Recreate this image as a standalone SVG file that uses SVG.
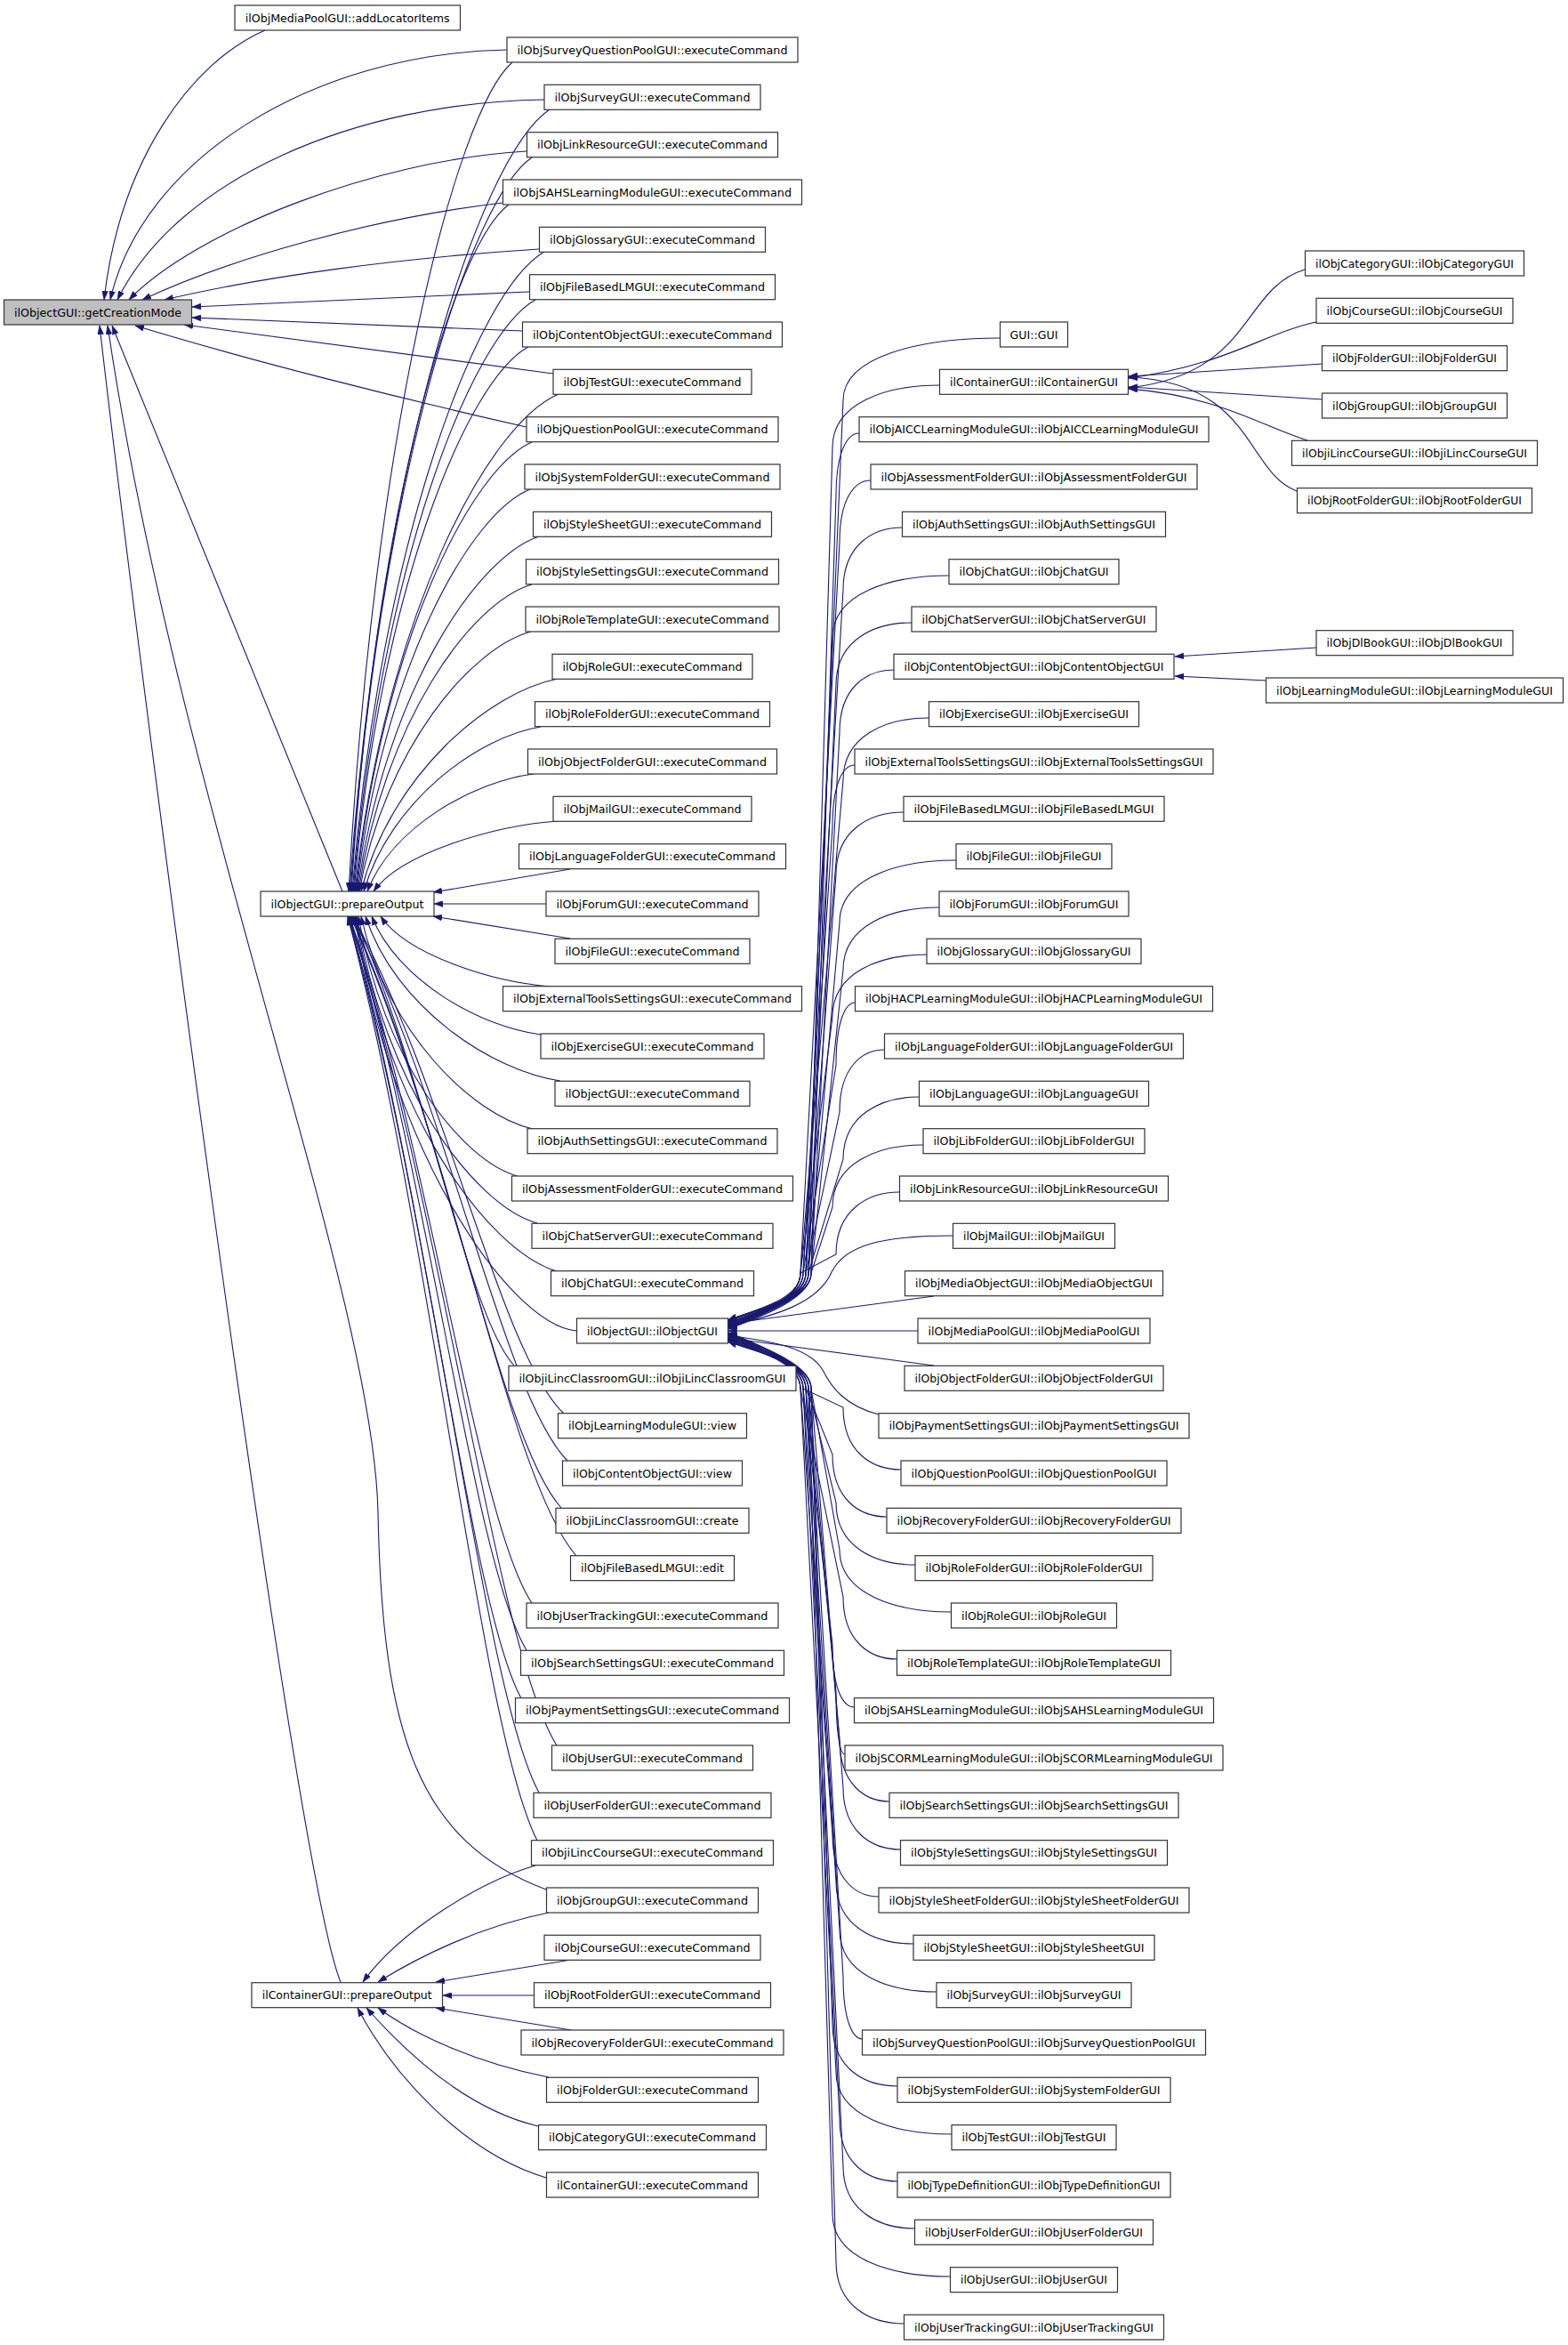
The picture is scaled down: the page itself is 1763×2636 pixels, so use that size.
<svg xmlns="http://www.w3.org/2000/svg" width="1763" height="2636" viewBox="0 0 1763 2636">
<style>
rect{fill:#fff;stroke:#333;stroke-width:1.2}
text{font-family:"DejaVu Sans",sans-serif;font-size:12.6px;text-anchor:middle;fill:#000}
#edges path{fill:none;stroke:#191970;stroke-width:1.1}
</style>
<defs>
<marker id="ah" viewBox="0 0 10 7" refX="10" refY="3.5" markerWidth="10" markerHeight="7" markerUnits="userSpaceOnUse" orient="auto"><path d="M0,0L10,3.5L0,7z" fill="#191970" stroke="#191970" stroke-width="0.5"/></marker>
</defs>
<rect x="0" y="0" width="1763" height="2636" style="fill:#fff;stroke:none"/>
<g id="edges" marker-end="url(#ah)">
<path d="M298,34 C215,70 135,180 117,337"/>
<path d="M570,56 C350,60 160,180 124,337"/>
<path d="M612,112 C400,115 200,200 132,337"/>
<path d="M592,170 C420,180 220,260 145,337"/>
<path d="M565,228 C420,245 260,290 160,337"/>
<path d="M606,280 C450,290 300,310 185,337"/>
<path d="M595,328 L216,345"/>
<path d="M587,372 L216,357"/>
<path d="M622,420 L207,365"/>
<path d="M592,480 C450,448 280,405 152,366"/>
<path d="M385,1002 L126,366"/>
<path d="M383,2228 C330,2100 150,700 112,366"/>
<path d="M614,2124 C470,2070 430,1950 425,1700 C420,1450 200,900 121,366"/>
<path d="M576,70 C512,126 420,489 392,1002"/>
<path d="M618,123 C539,176 427,519 393,1002"/>
<path d="M598,177 C527,226 425,548 394,1002"/>
<path d="M572,230 C510,276 421,577 395,1002"/>
<path d="M612,283 C537,326 428,607 396,1002"/>
<path d="M602,337 C530,377 428,636 397,1002"/>
<path d="M594,390 C525,427 427,665 398,1002"/>
<path d="M628,443 C548,477 433,695 399,1002"/>
<path d="M598,497 C529,527 430,724 400,1002"/>
<path d="M596,550 C528,577 430,753 401,1002"/>
<path d="M606,603 C534,627 432,783 402,1002"/>
<path d="M598,657 C529,677 432,812 403,1002"/>
<path d="M597,710 C530,728 433,841 404,1002"/>
<path d="M627,763 C550,778 439,871 406,1002"/>
<path d="M608,817 C538,828 439,900 409,1002"/>
<path d="M600,870 C534,878 441,929 413,1002"/>
<path d="M628,923 C555,928 451,959 420,1002"/>
<path d="M641,977 L487,1003"/>
<path d="M614,1016 L488,1016"/>
<path d="M641,1055 L487,1030"/>
<path d="M620,1109 C553,1104 457,1073 428,1030"/>
<path d="M608,1163 C542,1155 447,1103 418,1030"/>
<path d="M630,1215 C553,1204 444,1132 411,1030"/>
<path d="M599,1269 C532,1254 435,1161 406,1030"/>
<path d="M582,1322 C519,1305 430,1191 403,1030"/>
<path d="M604,1375 C533,1355 432,1220 401,1030"/>
<path d="M626,1429 C547,1405 434,1249 400,1030"/>
<path d="M648,1496 C570,1488 436,1286 399,1030"/>
<path d="M578,1535 C524,1475 479,1207 398,1030"/>
<path d="M634,1589 C563,1522 503,1226 397,1030"/>
<path d="M638,1642 C566,1569 505,1244 396,1030"/>
<path d="M631,1695 C560,1615 501,1263 395,1030"/>
<path d="M648,1749 C572,1662 508,1282 394,1030"/>
<path d="M598,1802 C536,1709 485,1300 393,1030"/>
<path d="M592,1855 C532,1756 482,1319 393,1030"/>
<path d="M586,1909 C528,1803 479,1338 392,1030"/>
<path d="M626,1962 C556,1850 498,1356 392,1030"/>
<path d="M606,2015 C542,1897 488,1375 391,1030"/>
<path d="M604,2069 C540,1944 487,1394 391,1030"/>
<path d="M602,2097 C540,2115 450,2170 408,2228"/>
<path d="M617,2150 C540,2165 470,2200 425,2228"/>
<path d="M642,2203 L490,2228"/>
<path d="M600,2243 L498,2243"/>
<path d="M642,2282 L490,2257"/>
<path d="M617,2335 C540,2320 470,2290 425,2257"/>
<path d="M605,2390 C520,2370 450,2300 412,2257"/>
<path d="M614,2448 C520,2420 440,2330 402,2257"/>
<path d="M1467,303 C1395,325 1410,420 1269,436"/>
<path d="M1480,362 C1420,375 1380,410 1269,425"/>
<path d="M1487,409 L1269,423"/>
<path d="M1487,449 L1269,435"/>
<path d="M1470,495 C1420,480 1370,445 1269,437"/>
<path d="M1458,552 C1400,530 1410,430 1269,424"/>
<path d="M1480,728 L1321,738"/>
<path d="M1424,765 L1321,760"/>
<path d="M1124.5,380 C1036,380 948,400 948,450 L906,1431 C906,1461 850,1472 818.5,1484"/>
<path d="M1056.5,433 C996,433 936,453 936,503 L909,1431 C909,1461 850,1472 818.5,1484"/>
<path d="M966,487 C953,487 940,507 940,557 L912,1431 C912,1461 850,1472 818.5,1484"/>
<path d="M979,540 C961,540 944,560 944,610 L900,1431 C900,1461 850,1472 818.5,1484"/>
<path d="M1014.5,593 C981,593 948,613 948,663 L903,1431 C903,1461 850,1473 818.5,1485"/>
<path d="M1067,647 C1001,647 936,667 936,717 L906,1431 C906,1461 850,1474 818.5,1486"/>
<path d="M1025,700 C982,700 940,720 940,770 L909,1431 C909,1461 850,1475 818.5,1487"/>
<path d="M1005,753 C974,753 944,773 944,823 L912,1431 C912,1461 850,1476 818.5,1488"/>
<path d="M1044.5,807 C996,807 948,827 948,877 L900,1431 C900,1461 850,1476 818.5,1488"/>
<path d="M961,860 C948,860 936,880 936,930 L903,1431 C903,1461 850,1477 818.5,1489"/>
<path d="M1016,913 C978,913 940,933 940,983 L906,1431 C906,1461 850,1477 818.5,1489"/>
<path d="M1075,967 C1010,967 944,987 944,1037 L909,1431 C909,1461 850,1478 818.5,1490"/>
<path d="M1056,1020 C1002,1020 948,1040 948,1090 L912,1431 C912,1461 850,1479 818.5,1491"/>
<path d="M1042,1073 C989,1073 936,1093 936,1143 L900,1431 C900,1461 850,1479 818.5,1491"/>
<path d="M961.5,1127 C951,1127 940,1147 940,1197 L903,1431 C903,1461 850,1480 818.5,1492"/>
<path d="M994.5,1180 C969,1180 944,1200 944,1250 L906,1431 C906,1461 850,1480 818.5,1492"/>
<path d="M1033.5,1233 C991,1233 948,1253 948,1303 L909,1431 C909,1461 850,1481 818.5,1493"/>
<path d="M1038,1287 C987,1287 936,1307 936,1357 L912,1431 C912,1461 850,1482 818.5,1494"/>
<path d="M1011.5,1340 C976,1340 940,1360 940,1410 L900,1431 C900,1461 850,1482 818.5,1494"/>
<path d="M1071.5,1389 C990,1389 950,1400 935,1430 C920,1465 870,1480 818.5,1490"/>
<path d="M1050,1457 L818.5,1488"/>
<path d="M1032,1496 L818.5,1496"/>
<path d="M1050,1535 L818.5,1504"/>
<path d="M988,1590 C950,1580 935,1560 925,1540 C910,1515 870,1508 818.5,1501"/>
<path d="M1013,1652 C980,1652 948,1632 948,1582 L903,1561 C903,1531 850,1510 818.5,1498"/>
<path d="M997,1705 C966,1705 936,1685 936,1635 L906,1561 C906,1531 850,1510 818.5,1498"/>
<path d="M1029,1759 C984,1759 940,1739 940,1689 L909,1561 C909,1531 850,1511 818.5,1499"/>
<path d="M1069.5,1812 C1007,1812 944,1792 944,1742 L912,1561 C912,1531 850,1512 818.5,1500"/>
<path d="M1008.5,1865 C978,1865 948,1845 948,1795 L900,1561 C900,1531 850,1512 818.5,1500"/>
<path d="M960.5,1919 C948,1919 936,1899 936,1849 L903,1561 C903,1531 850,1513 818.5,1501"/>
<path d="M950,1972 C945,1972 940,1952 940,1902 L906,1561 C906,1531 850,1513 818.5,1501"/>
<path d="M1000,2025 C972,2025 944,2005 944,1955 L909,1561 C909,1531 850,1514 818.5,1502"/>
<path d="M1012.5,2079 C980,2079 948,2059 948,2009 L912,1561 C912,1531 850,1515 818.5,1503"/>
<path d="M988,2132 C962,2132 936,2112 936,2062 L900,1561 C900,1531 850,1515 818.5,1503"/>
<path d="M1027,2185 C983,2185 940,2165 940,2115 L903,1561 C903,1531 850,1516 818.5,1504"/>
<path d="M1053,2239 C998,2239 944,2219 944,2169 L906,1561 C906,1531 850,1516 818.5,1504"/>
<path d="M969.5,2292 C959,2292 948,2272 948,2222 L909,1561 C909,1531 850,1517 818.5,1505"/>
<path d="M1009,2345 C972,2345 936,2325 936,2275 L912,1561 C912,1531 850,1518 818.5,1506"/>
<path d="M1070,2399 C1005,2399 940,2379 940,2329 L900,1561 C900,1531 850,1518 818.5,1506"/>
<path d="M1009,2452 C976,2452 944,2432 944,2382 L903,1561 C903,1531 850,1519 818.5,1507"/>
<path d="M1028.5,2505 C988,2505 948,2485 948,2435 L906,1561 C906,1531 850,1519 818.5,1507"/>
<path d="M1068.5,2559 C1002,2559 936,2539 936,2489 L909,1561 C909,1531 850,1520 818.5,1508"/>
<path d="M1016.5,2612 C978,2612 940,2592 940,2542 L912,1561 C912,1531 850,1520 818.5,1508"/>
</g>
<g id="n_root"><rect x="4.5" y="337" width="211" height="28" style="fill:#bfbfbf"/><text x="110" y="355.5" textLength="188" lengthAdjust="spacingAndGlyphs">ilObjectGUI::getCreationMode</text></g>
<g id="n_addloc"><rect x="264" y="6" width="253.5" height="28"/><text x="390.7" y="24.5" textLength="230" lengthAdjust="spacingAndGlyphs">ilObjMediaPoolGUI::addLocatorItems</text></g>
<g id="n_po"><rect x="293" y="1002" width="195" height="28"/><text x="390.5" y="1020.5" textLength="172" lengthAdjust="spacingAndGlyphs">ilObjectGUI::prepareOutput</text></g>
<g id="n_cpo"><rect x="283" y="2228.7" width="214.5" height="28"/><text x="390.2" y="2247.2" textLength="191" lengthAdjust="spacingAndGlyphs">ilContainerGUI::prepareOutput</text></g>
<g id="c1"><rect x="570" y="42" width="327" height="28"/><text x="733.5" y="60.5" textLength="304" lengthAdjust="spacingAndGlyphs">ilObjSurveyQuestionPoolGUI::executeCommand</text></g>
<g id="c2"><rect x="612" y="95.3" width="243" height="28"/><text x="733.5" y="113.8" textLength="220" lengthAdjust="spacingAndGlyphs">ilObjSurveyGUI::executeCommand</text></g>
<g id="c3"><rect x="592.5" y="148.7" width="282" height="28"/><text x="733.5" y="167.2" textLength="259" lengthAdjust="spacingAndGlyphs">ilObjLinkResourceGUI::executeCommand</text></g>
<g id="c4"><rect x="565.5" y="202" width="336" height="28"/><text x="733.5" y="220.5" textLength="313" lengthAdjust="spacingAndGlyphs">ilObjSAHSLearningModuleGUI::executeCommand</text></g>
<g id="c5"><rect x="606.5" y="255.3" width="254" height="28"/><text x="733.5" y="273.8" textLength="231" lengthAdjust="spacingAndGlyphs">ilObjGlossaryGUI::executeCommand</text></g>
<g id="c6"><rect x="595.5" y="308.7" width="276" height="28"/><text x="733.5" y="327.2" textLength="253" lengthAdjust="spacingAndGlyphs">ilObjFileBasedLMGUI::executeCommand</text></g>
<g id="c7"><rect x="587.5" y="362" width="292" height="28"/><text x="733.5" y="380.5" textLength="269" lengthAdjust="spacingAndGlyphs">ilObjContentObjectGUI::executeCommand</text></g>
<g id="c8"><rect x="622" y="415.3" width="223" height="28"/><text x="733.5" y="433.8" textLength="200" lengthAdjust="spacingAndGlyphs">ilObjTestGUI::executeCommand</text></g>
<g id="c9"><rect x="592" y="468.7" width="283" height="28"/><text x="733.5" y="487.2" textLength="260" lengthAdjust="spacingAndGlyphs">ilObjQuestionPoolGUI::executeCommand</text></g>
<g id="c10"><rect x="590" y="522" width="287" height="28"/><text x="733.5" y="540.5" textLength="264" lengthAdjust="spacingAndGlyphs">ilObjSystemFolderGUI::executeCommand</text></g>
<g id="c11"><rect x="599.5" y="575.3" width="268" height="28"/><text x="733.5" y="593.8" textLength="245" lengthAdjust="spacingAndGlyphs">ilObjStyleSheetGUI::executeCommand</text></g>
<g id="c12"><rect x="591.5" y="628.7" width="284" height="28"/><text x="733.5" y="647.2" textLength="261" lengthAdjust="spacingAndGlyphs">ilObjStyleSettingsGUI::executeCommand</text></g>
<g id="c13"><rect x="591" y="682" width="285" height="28"/><text x="733.5" y="700.5" textLength="262" lengthAdjust="spacingAndGlyphs">ilObjRoleTemplateGUI::executeCommand</text></g>
<g id="c14"><rect x="621" y="735.3" width="225" height="28"/><text x="733.5" y="753.8" textLength="202" lengthAdjust="spacingAndGlyphs">ilObjRoleGUI::executeCommand</text></g>
<g id="c15"><rect x="601.5" y="788.7" width="264" height="28"/><text x="733.5" y="807.2" textLength="241" lengthAdjust="spacingAndGlyphs">ilObjRoleFolderGUI::executeCommand</text></g>
<g id="c16"><rect x="593.5" y="842" width="280" height="28"/><text x="733.5" y="860.5" textLength="257" lengthAdjust="spacingAndGlyphs">ilObjObjectFolderGUI::executeCommand</text></g>
<g id="c17"><rect x="622" y="895.3" width="223" height="28"/><text x="733.5" y="913.8" textLength="200" lengthAdjust="spacingAndGlyphs">ilObjMailGUI::executeCommand</text></g>
<g id="c18"><rect x="583.5" y="948.7" width="300" height="28"/><text x="733.5" y="967.2" textLength="277" lengthAdjust="spacingAndGlyphs">ilObjLanguageFolderGUI::executeCommand</text></g>
<g id="c19"><rect x="614" y="1002" width="239" height="28"/><text x="733.5" y="1020.5" textLength="216" lengthAdjust="spacingAndGlyphs">ilObjForumGUI::executeCommand</text></g>
<g id="c20"><rect x="624" y="1055.3" width="219" height="28"/><text x="733.5" y="1073.8" textLength="196" lengthAdjust="spacingAndGlyphs">ilObjFileGUI::executeCommand</text></g>
<g id="c21"><rect x="565.5" y="1108.7" width="336" height="28"/><text x="733.5" y="1127.2" textLength="313" lengthAdjust="spacingAndGlyphs">ilObjExternalToolsSettingsGUI::executeCommand</text></g>
<g id="c22"><rect x="608" y="1162" width="251" height="28"/><text x="733.5" y="1180.5" textLength="228" lengthAdjust="spacingAndGlyphs">ilObjExerciseGUI::executeCommand</text></g>
<g id="c23"><rect x="624" y="1215.3" width="219" height="28"/><text x="733.5" y="1233.8" textLength="196" lengthAdjust="spacingAndGlyphs">ilObjectGUI::executeCommand</text></g>
<g id="c24"><rect x="593" y="1268.7" width="281" height="28"/><text x="733.5" y="1287.2" textLength="258" lengthAdjust="spacingAndGlyphs">ilObjAuthSettingsGUI::executeCommand</text></g>
<g id="c25"><rect x="575.5" y="1322" width="316" height="28"/><text x="733.5" y="1340.5" textLength="293" lengthAdjust="spacingAndGlyphs">ilObjAssessmentFolderGUI::executeCommand</text></g>
<g id="c26"><rect x="598" y="1375.3" width="271" height="28"/><text x="733.5" y="1393.8" textLength="248" lengthAdjust="spacingAndGlyphs">ilObjChatServerGUI::executeCommand</text></g>
<g id="c27"><rect x="619.5" y="1428.7" width="228" height="28"/><text x="733.5" y="1447.2" textLength="205" lengthAdjust="spacingAndGlyphs">ilObjChatGUI::executeCommand</text></g>
<g id="c28"><rect x="648.5" y="1482" width="170" height="28"/><text x="733.5" y="1500.5" textLength="147" lengthAdjust="spacingAndGlyphs">ilObjectGUI::ilObjectGUI</text></g>
<g id="c29"><rect x="572" y="1535.3" width="323" height="28"/><text x="733.5" y="1553.8" textLength="300" lengthAdjust="spacingAndGlyphs">ilObjiLincClassroomGUI::ilObjiLincClassroomGUI</text></g>
<g id="c30"><rect x="627.5" y="1588.7" width="212" height="28"/><text x="733.5" y="1607.2" textLength="189" lengthAdjust="spacingAndGlyphs">ilObjLearningModuleGUI::view</text></g>
<g id="c31"><rect x="632.5" y="1642" width="202" height="28"/><text x="733.5" y="1660.5" textLength="179" lengthAdjust="spacingAndGlyphs">ilObjContentObjectGUI::view</text></g>
<g id="c32"><rect x="625" y="1695.3" width="217" height="28"/><text x="733.5" y="1713.8" textLength="194" lengthAdjust="spacingAndGlyphs">ilObjiLincClassroomGUI::create</text></g>
<g id="c33"><rect x="641.5" y="1748.7" width="184" height="28"/><text x="733.5" y="1767.2" textLength="161" lengthAdjust="spacingAndGlyphs">ilObjFileBasedLMGUI::edit</text></g>
<g id="c34"><rect x="592" y="1802" width="283" height="28"/><text x="733.5" y="1820.5" textLength="260" lengthAdjust="spacingAndGlyphs">ilObjUserTrackingGUI::executeCommand</text></g>
<g id="c35"><rect x="585.5" y="1855.3" width="296" height="28"/><text x="733.5" y="1873.8" textLength="273" lengthAdjust="spacingAndGlyphs">ilObjSearchSettingsGUI::executeCommand</text></g>
<g id="c36"><rect x="579.5" y="1908.7" width="308" height="28"/><text x="733.5" y="1927.2" textLength="285" lengthAdjust="spacingAndGlyphs">ilObjPaymentSettingsGUI::executeCommand</text></g>
<g id="c37"><rect x="620.5" y="1962" width="226" height="28"/><text x="733.5" y="1980.5" textLength="203" lengthAdjust="spacingAndGlyphs">ilObjUserGUI::executeCommand</text></g>
<g id="c38"><rect x="600" y="2015.3" width="267" height="28"/><text x="733.5" y="2033.8" textLength="244" lengthAdjust="spacingAndGlyphs">ilObjUserFolderGUI::executeCommand</text></g>
<g id="c39"><rect x="597.5" y="2068.7" width="272" height="28"/><text x="733.5" y="2087.2" textLength="249" lengthAdjust="spacingAndGlyphs">ilObjiLincCourseGUI::executeCommand</text></g>
<g id="c40"><rect x="614.5" y="2122" width="238" height="28"/><text x="733.5" y="2140.5" textLength="215" lengthAdjust="spacingAndGlyphs">ilObjGroupGUI::executeCommand</text></g>
<g id="c41"><rect x="612" y="2175.3" width="243" height="28"/><text x="733.5" y="2193.8" textLength="220" lengthAdjust="spacingAndGlyphs">ilObjCourseGUI::executeCommand</text></g>
<g id="c42"><rect x="600.5" y="2228.7" width="266" height="28"/><text x="733.5" y="2247.2" textLength="243" lengthAdjust="spacingAndGlyphs">ilObjRootFolderGUI::executeCommand</text></g>
<g id="c43"><rect x="586" y="2282" width="295" height="28"/><text x="733.5" y="2300.5" textLength="272" lengthAdjust="spacingAndGlyphs">ilObjRecoveryFolderGUI::executeCommand</text></g>
<g id="c44"><rect x="614.5" y="2335.3" width="238" height="28"/><text x="733.5" y="2353.8" textLength="215" lengthAdjust="spacingAndGlyphs">ilObjFolderGUI::executeCommand</text></g>
<g id="c45"><rect x="605.5" y="2388.7" width="256" height="28"/><text x="733.5" y="2407.2" textLength="233" lengthAdjust="spacingAndGlyphs">ilObjCategoryGUI::executeCommand</text></g>
<g id="c46"><rect x="614.5" y="2442" width="238" height="28"/><text x="733.5" y="2460.5" textLength="215" lengthAdjust="spacingAndGlyphs">ilContainerGUI::executeCommand</text></g>
<g id="d7"><rect x="1124.5" y="362" width="76" height="28"/><text x="1162.5" y="380.5">GUI::GUI</text></g>
<g id="d8"><rect x="1056.5" y="415.3" width="212" height="28"/><text x="1162.5" y="433.8" textLength="189" lengthAdjust="spacingAndGlyphs">ilContainerGUI::ilContainerGUI</text></g>
<g id="d9"><rect x="966" y="468.7" width="393" height="28"/><text x="1162.5" y="487.2" textLength="370" lengthAdjust="spacingAndGlyphs">ilObjAICCLearningModuleGUI::ilObjAICCLearningModuleGUI</text></g>
<g id="d10"><rect x="979" y="522" width="367" height="28"/><text x="1162.5" y="540.5" textLength="344" lengthAdjust="spacingAndGlyphs">ilObjAssessmentFolderGUI::ilObjAssessmentFolderGUI</text></g>
<g id="d11"><rect x="1014.5" y="575.3" width="296" height="28"/><text x="1162.5" y="593.8" textLength="273" lengthAdjust="spacingAndGlyphs">ilObjAuthSettingsGUI::ilObjAuthSettingsGUI</text></g>
<g id="d12"><rect x="1067" y="628.7" width="191" height="28"/><text x="1162.5" y="647.2" textLength="168" lengthAdjust="spacingAndGlyphs">ilObjChatGUI::ilObjChatGUI</text></g>
<g id="d13"><rect x="1025" y="682" width="275" height="28"/><text x="1162.5" y="700.5" textLength="252" lengthAdjust="spacingAndGlyphs">ilObjChatServerGUI::ilObjChatServerGUI</text></g>
<g id="d14"><rect x="1005" y="735.3" width="315" height="28"/><text x="1162.5" y="753.8" textLength="292" lengthAdjust="spacingAndGlyphs">ilObjContentObjectGUI::ilObjContentObjectGUI</text></g>
<g id="d15"><rect x="1044.5" y="788.7" width="236" height="28"/><text x="1162.5" y="807.2" textLength="213" lengthAdjust="spacingAndGlyphs">ilObjExerciseGUI::ilObjExerciseGUI</text></g>
<g id="d16"><rect x="961" y="842" width="403" height="28"/><text x="1162.5" y="860.5" textLength="380" lengthAdjust="spacingAndGlyphs">ilObjExternalToolsSettingsGUI::ilObjExternalToolsSettingsGUI</text></g>
<g id="d17"><rect x="1016" y="895.3" width="293" height="28"/><text x="1162.5" y="913.8" textLength="270" lengthAdjust="spacingAndGlyphs">ilObjFileBasedLMGUI::ilObjFileBasedLMGUI</text></g>
<g id="d18"><rect x="1075" y="948.7" width="175" height="28"/><text x="1162.5" y="967.2" textLength="152" lengthAdjust="spacingAndGlyphs">ilObjFileGUI::ilObjFileGUI</text></g>
<g id="d19"><rect x="1056" y="1002" width="213" height="28"/><text x="1162.5" y="1020.5" textLength="190" lengthAdjust="spacingAndGlyphs">ilObjForumGUI::ilObjForumGUI</text></g>
<g id="d20"><rect x="1042" y="1055.3" width="241" height="28"/><text x="1162.5" y="1073.8" textLength="218" lengthAdjust="spacingAndGlyphs">ilObjGlossaryGUI::ilObjGlossaryGUI</text></g>
<g id="d21"><rect x="961.5" y="1108.7" width="402" height="28"/><text x="1162.5" y="1127.2" textLength="379" lengthAdjust="spacingAndGlyphs">ilObjHACPLearningModuleGUI::ilObjHACPLearningModuleGUI</text></g>
<g id="d22"><rect x="994.5" y="1162" width="336" height="28"/><text x="1162.5" y="1180.5" textLength="313" lengthAdjust="spacingAndGlyphs">ilObjLanguageFolderGUI::ilObjLanguageFolderGUI</text></g>
<g id="d23"><rect x="1033.5" y="1215.3" width="258" height="28"/><text x="1162.5" y="1233.8" textLength="235" lengthAdjust="spacingAndGlyphs">ilObjLanguageGUI::ilObjLanguageGUI</text></g>
<g id="d24"><rect x="1038" y="1268.7" width="249" height="28"/><text x="1162.5" y="1287.2" textLength="226" lengthAdjust="spacingAndGlyphs">ilObjLibFolderGUI::ilObjLibFolderGUI</text></g>
<g id="d25"><rect x="1011.5" y="1322" width="302" height="28"/><text x="1162.5" y="1340.5" textLength="279" lengthAdjust="spacingAndGlyphs">ilObjLinkResourceGUI::ilObjLinkResourceGUI</text></g>
<g id="d26"><rect x="1071.5" y="1375.3" width="182" height="28"/><text x="1162.5" y="1393.8" textLength="159" lengthAdjust="spacingAndGlyphs">ilObjMailGUI::ilObjMailGUI</text></g>
<g id="d27"><rect x="1017.5" y="1428.7" width="290" height="28"/><text x="1162.5" y="1447.2" textLength="267" lengthAdjust="spacingAndGlyphs">ilObjMediaObjectGUI::ilObjMediaObjectGUI</text></g>
<g id="d28"><rect x="1032" y="1482" width="261" height="28"/><text x="1162.5" y="1500.5" textLength="238" lengthAdjust="spacingAndGlyphs">ilObjMediaPoolGUI::ilObjMediaPoolGUI</text></g>
<g id="d29"><rect x="1017" y="1535.3" width="291" height="28"/><text x="1162.5" y="1553.8" textLength="268" lengthAdjust="spacingAndGlyphs">ilObjObjectFolderGUI::ilObjObjectFolderGUI</text></g>
<g id="d30"><rect x="988" y="1588.7" width="349" height="28"/><text x="1162.5" y="1607.2" textLength="326" lengthAdjust="spacingAndGlyphs">ilObjPaymentSettingsGUI::ilObjPaymentSettingsGUI</text></g>
<g id="d31"><rect x="1013" y="1642" width="299" height="28"/><text x="1162.5" y="1660.5" textLength="276" lengthAdjust="spacingAndGlyphs">ilObjQuestionPoolGUI::ilObjQuestionPoolGUI</text></g>
<g id="d32"><rect x="997" y="1695.3" width="331" height="28"/><text x="1162.5" y="1713.8" textLength="308" lengthAdjust="spacingAndGlyphs">ilObjRecoveryFolderGUI::ilObjRecoveryFolderGUI</text></g>
<g id="d33"><rect x="1029" y="1748.7" width="267" height="28"/><text x="1162.5" y="1767.2" textLength="244" lengthAdjust="spacingAndGlyphs">ilObjRoleFolderGUI::ilObjRoleFolderGUI</text></g>
<g id="d34"><rect x="1069.5" y="1802" width="186" height="28"/><text x="1162.5" y="1820.5" textLength="163" lengthAdjust="spacingAndGlyphs">ilObjRoleGUI::ilObjRoleGUI</text></g>
<g id="d35"><rect x="1008.5" y="1855.3" width="308" height="28"/><text x="1162.5" y="1873.8" textLength="285" lengthAdjust="spacingAndGlyphs">ilObjRoleTemplateGUI::ilObjRoleTemplateGUI</text></g>
<g id="d36"><rect x="960.5" y="1908.7" width="404" height="28"/><text x="1162.5" y="1927.2" textLength="381" lengthAdjust="spacingAndGlyphs">ilObjSAHSLearningModuleGUI::ilObjSAHSLearningModuleGUI</text></g>
<g id="d37"><rect x="950" y="1962" width="425" height="28"/><text x="1162.5" y="1980.5" textLength="402" lengthAdjust="spacingAndGlyphs">ilObjSCORMLearningModuleGUI::ilObjSCORMLearningModuleGUI</text></g>
<g id="d38"><rect x="1000" y="2015.3" width="325" height="28"/><text x="1162.5" y="2033.8" textLength="302" lengthAdjust="spacingAndGlyphs">ilObjSearchSettingsGUI::ilObjSearchSettingsGUI</text></g>
<g id="d39"><rect x="1012.5" y="2068.7" width="300" height="28"/><text x="1162.5" y="2087.2" textLength="277" lengthAdjust="spacingAndGlyphs">ilObjStyleSettingsGUI::ilObjStyleSettingsGUI</text></g>
<g id="d40"><rect x="988" y="2122" width="349" height="28"/><text x="1162.5" y="2140.5" textLength="326" lengthAdjust="spacingAndGlyphs">ilObjStyleSheetFolderGUI::ilObjStyleSheetFolderGUI</text></g>
<g id="d41"><rect x="1027" y="2175.3" width="271" height="28"/><text x="1162.5" y="2193.8" textLength="248" lengthAdjust="spacingAndGlyphs">ilObjStyleSheetGUI::ilObjStyleSheetGUI</text></g>
<g id="d42"><rect x="1053" y="2228.7" width="219" height="28"/><text x="1162.5" y="2247.2" textLength="196" lengthAdjust="spacingAndGlyphs">ilObjSurveyGUI::ilObjSurveyGUI</text></g>
<g id="d43"><rect x="969.5" y="2282" width="386" height="28"/><text x="1162.5" y="2300.5" textLength="363" lengthAdjust="spacingAndGlyphs">ilObjSurveyQuestionPoolGUI::ilObjSurveyQuestionPoolGUI</text></g>
<g id="d44"><rect x="1009" y="2335.3" width="307" height="28"/><text x="1162.5" y="2353.8" textLength="284" lengthAdjust="spacingAndGlyphs">ilObjSystemFolderGUI::ilObjSystemFolderGUI</text></g>
<g id="d45"><rect x="1070" y="2388.7" width="185" height="28"/><text x="1162.5" y="2407.2" textLength="162" lengthAdjust="spacingAndGlyphs">ilObjTestGUI::ilObjTestGUI</text></g>
<g id="d46"><rect x="1009" y="2442" width="307" height="28"/><text x="1162.5" y="2460.5" textLength="284" lengthAdjust="spacingAndGlyphs">ilObjTypeDefinitionGUI::ilObjTypeDefinitionGUI</text></g>
<g id="d47"><rect x="1028.5" y="2495.3" width="268" height="28"/><text x="1162.5" y="2513.8" textLength="245" lengthAdjust="spacingAndGlyphs">ilObjUserFolderGUI::ilObjUserFolderGUI</text></g>
<g id="d48"><rect x="1068.5" y="2548.7" width="188" height="28"/><text x="1162.5" y="2567.2" textLength="165" lengthAdjust="spacingAndGlyphs">ilObjUserGUI::ilObjUserGUI</text></g>
<g id="d49"><rect x="1016.5" y="2602" width="292" height="28"/><text x="1162.5" y="2620.5" textLength="269" lengthAdjust="spacingAndGlyphs">ilObjUserTrackingGUI::ilObjUserTrackingGUI</text></g>
<g id="e_cat"><rect x="1467.5" y="282" width="246" height="28"/><text x="1590.5" y="300.5" textLength="223" lengthAdjust="spacingAndGlyphs">ilObjCategoryGUI::ilObjCategoryGUI</text></g>
<g id="e_course"><rect x="1480" y="335.3" width="221" height="28"/><text x="1590.5" y="353.8" textLength="198" lengthAdjust="spacingAndGlyphs">ilObjCourseGUI::ilObjCourseGUI</text></g>
<g id="e_folder"><rect x="1486.5" y="388.7" width="208" height="28"/><text x="1590.5" y="407.2" textLength="185" lengthAdjust="spacingAndGlyphs">ilObjFolderGUI::ilObjFolderGUI</text></g>
<g id="e_group"><rect x="1486.5" y="442" width="208" height="28"/><text x="1590.5" y="460.5" textLength="185" lengthAdjust="spacingAndGlyphs">ilObjGroupGUI::ilObjGroupGUI</text></g>
<g id="e_ilinc"><rect x="1452.5" y="495.3" width="276" height="28"/><text x="1590.5" y="513.8" textLength="253" lengthAdjust="spacingAndGlyphs">ilObjiLincCourseGUI::ilObjiLincCourseGUI</text></g>
<g id="e_root"><rect x="1458.5" y="548.7" width="264" height="28"/><text x="1590.5" y="567.2" textLength="241" lengthAdjust="spacingAndGlyphs">ilObjRootFolderGUI::ilObjRootFolderGUI</text></g>
<g id="e_dlbook"><rect x="1480" y="708.7" width="221" height="28"/><text x="1590.5" y="727.2" textLength="198" lengthAdjust="spacingAndGlyphs">ilObjDlBookGUI::ilObjDlBookGUI</text></g>
<g id="e_lm"><rect x="1423.5" y="762" width="334" height="28"/><text x="1590.5" y="780.5" textLength="311" lengthAdjust="spacingAndGlyphs">ilObjLearningModuleGUI::ilObjLearningModuleGUI</text></g>
</svg>
